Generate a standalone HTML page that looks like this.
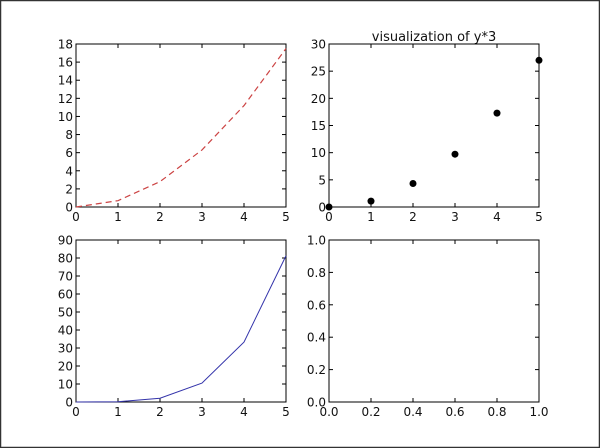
<!DOCTYPE html>
<html><head><meta charset="utf-8"><style>
html,body{margin:0;padding:0;background:#fff}
svg{display:block}
text{font-family:"DejaVu Sans","Liberation Sans",sans-serif;font-size:12px;fill:#111}
</style></head><body>
<svg id="s" width="600" height="448" xmlns="http://www.w3.org/2000/svg">
<rect x="0.5" y="0.5" width="599" height="447" fill="#fff" stroke="#333" stroke-width="1.5"/>
<text x="434" y="41" text-anchor="middle" style="font-size:13px">visualization of y*3</text>
</svg>
<script>
var s=document.getElementById('s'),NS='http://www.w3.org/2000/svg';
function el(t,a,txt){var e=document.createElementNS(NS,t);for(var k in a)e.setAttribute(k,a[k]);if(txt!=null)e.textContent=txt;s.appendChild(e);return e;}
function axes(x0,y0,w,h,xt,yt,xl,yl){
 el('rect',{x:x0,y:y0,width:w,height:h,fill:'none',stroke:'#000','stroke-width':1});
 xt.forEach(function(v,i){var x=x0+v*w;
  el('line',{x1:x,y1:y0+h,x2:x,y2:y0+h-4,stroke:'#000'});
  el('line',{x1:x,y1:y0,x2:x,y2:y0+4,stroke:'#000'});
  el('text',{x:x,y:y0+h+14,'text-anchor':'middle'},xl[i]);});
 yt.forEach(function(v,i){var y=y0+h-v*h;
  el('line',{x1:x0,y1:y,x2:x0+4,y2:y,stroke:'#000'});
  el('line',{x1:x0+w,y1:y,x2:x0+w-4,y2:y,stroke:'#000'});
  el('text',{x:x0-3,y:y+4.5,'text-anchor':'end'},yl[i]);});
}
var xs=[0,1,2,3,4,5];
function r(n,st){var a=[],l=[];for(var i=0;i<=n;i++){a.push(i/n);l.push(String(i*st));}return [a,l];}
var x5=r(5,1);
var y1=r(9,2);axes(76,44,210,163,x5[0],y1[0],x5[1],y1[1]);
var y2=r(6,5);axes(329,44,210,163,x5[0],y2[0],x5[1],y2[1]);
var y3=r(9,10);axes(76,240,210,162,x5[0],y3[0],x5[1],y3[1]);
var f=[0,0.2,0.4,0.6,0.8,1],fl=['0.0','0.2','0.4','0.6','0.8','1.0'];
axes(329,240,210,162,f,f,fl,fl);
var p1=xs.map(function(x){return (76+x*42)+','+(207-0.7*x*x/18*163);}).join(' ');
el('polyline',{points:p1,fill:'none',stroke:'#c44','stroke-width':1.2,'stroke-dasharray':'6,4'});
var p3=xs.map(function(x){return (76+x*42)+','+(402-0.13*Math.pow(x,4)/90*162);}).join(' ');
el('polyline',{points:p3,fill:'none',stroke:'#33a','stroke-width':1});
xs.forEach(function(x){el('circle',{cx:329+x*42,cy:207-1.08*x*x/30*163,r:3.5,fill:'#000'});});
</script>
</body></html>
